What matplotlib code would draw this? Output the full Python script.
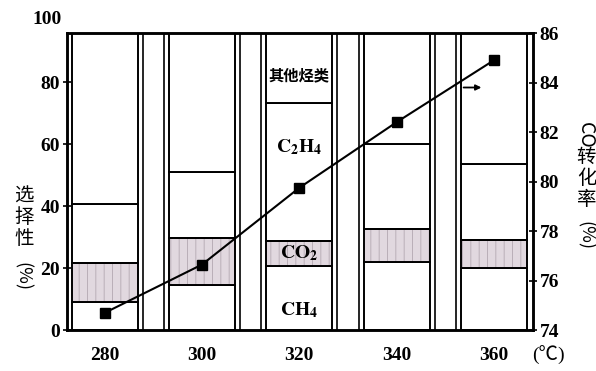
import numpy as np
import matplotlib.pyplot as plt

plt.rcParams['font.family'] = ['Liberation Serif', 'Noto Sans CJK SC']
plt.rcParams['mathtext.fontset'] = 'stix'
plt.rcParams['hatch.linewidth'] = 0.6

temps = ['280', '300', '320', '340', '360']
ch4 = [9.2, 14.7, 20.8, 22.0, 20.0]
co2 = [12.4, 15.0, 7.9, 10.6, 9.0]
c2h4 = [19.2, 21.3, 44.7, 27.4, 24.5]
other = [100 - a - b - c for a, b, c in zip(ch4, co2, c2h4)]
co_conv = [74.7, 76.65, 79.75, 82.4, 84.9]

x = np.arange(len(temps))
w = 0.68

fig = plt.figure(figsize=(5.96, 3.71), dpi=100)
ax = fig.add_axes([0.112, 0.11, 0.782, 0.801])

ch4_a = np.array(ch4)
co2_a = np.array(co2)
c2h4_a = np.array(c2h4)

ax.bar(x, ch4, w, color='white', edgecolor='black', lw=1.4, zorder=2)
# shaded CO2 band
ax.bar(x, co2, w, bottom=ch4_a, color='#e1d8df', edgecolor='#b3a8b1', lw=0,
       hatch='||', zorder=2)
ax.bar(x, co2, w, bottom=ch4_a, color='none', edgecolor='black', lw=1.4, zorder=3)
ax.bar(x, c2h4, w, bottom=ch4_a + co2_a, color='white', edgecolor='black', lw=1.4, zorder=2)
ax.bar(x, other, w, bottom=ch4_a + co2_a + c2h4_a, color='white', edgecolor='black',
       lw=1.4, zorder=2)

# narrow gap columns between bars
gap = 0.05
for i in range(len(x) - 1):
    ax.axvline(x[i] + w / 2 + gap, color='black', lw=1.2, zorder=1)
    ax.axvline(x[i + 1] - w / 2 - gap, color='black', lw=1.2, zorder=1)

ax.set_xlim(-0.39, 4.40)
ax.set_ylim(0, 95.8)
ax.set_xticks(x)
ax.set_xticklabels(temps, fontweight='bold')
ax.set_yticks([0, 20, 40, 60, 80])
ax.tick_params(axis='x', length=0, labelsize=14, pad=12)
ax.tick_params(axis='y', direction='inout', length=6, width=1.2, labelsize=14, pad=2)
for lab in ax.get_yticklabels():
    lab.set_fontweight('bold')
ax.text(-0.01, 100, '100', transform=ax.get_yaxis_transform(), ha='right', va='center',
        fontsize=14, fontweight='bold')
for s in ax.spines.values():
    s.set_linewidth(1.8)

# labels inside the 320 bar
ax.text(2, 82.3, '其他烃类', ha='center', va='center', fontsize=11,
        family='Noto Sans CJK SC', fontweight='bold', zorder=5)
ax.text(2, 59, r'$\mathbf{C_2H_4}$', ha='center', va='center', fontsize=14, zorder=5)
ax.text(2, 24.8, r'$\mathbf{CO_2}$', ha='center', va='center', fontsize=14, zorder=5)
ax.text(2, 6.5, r'$\mathbf{CH_4}$', ha='center', va='center', fontsize=14, zorder=5)

ax2 = ax.twinx()
ax2.set_ylim(74, 86)
ax2.set_yticks([74, 76, 78, 80, 82, 84, 86])
ax2.tick_params(axis='y', direction='inout', length=6, width=1.2, labelsize=14, pad=2)
for lab in ax2.get_yticklabels():
    lab.set_fontweight('bold')
for s in ax2.spines.values():
    s.set_linewidth(1.8)
ax2.plot(x, co_conv, color='black', lw=1.5, marker='s', markersize=7, zorder=6)
ax2.annotate('', xy=(3.9, 83.8), xytext=(3.66, 83.8),
             arrowprops=dict(arrowstyle='-|>', color='black', lw=1.3,
                             mutation_scale=8))

# axis titles
fig.text(0.04, 0.415, '选\n择\n性', family='Noto Sans CJK SC', fontsize=14,
         ha='center', va='center', linespacing=1.0)
fig.text(0.037, 0.415 - 0.16, '(%)', family='Noto Sans CJK SC', fontsize=13,
         ha='center', va='center', rotation=-90)
fig.text(0.982, 0.635, 'CO', family='Noto Sans CJK SC', fontsize=14,
         ha='center', va='center', rotation=-90)
fig.text(0.984, 0.52, '转\n化\n率', family='Noto Sans CJK SC', fontsize=14,
         ha='center', va='center', linespacing=1.0)
fig.text(0.982, 0.365, '(%)', family='Noto Sans CJK SC', fontsize=13,
         ha='center', va='center', rotation=-90)
fig.text(0.921, 0.043, '(℃)', fontsize=14, ha='center', va='center')

fig.savefig('out.png', dpi=100)
